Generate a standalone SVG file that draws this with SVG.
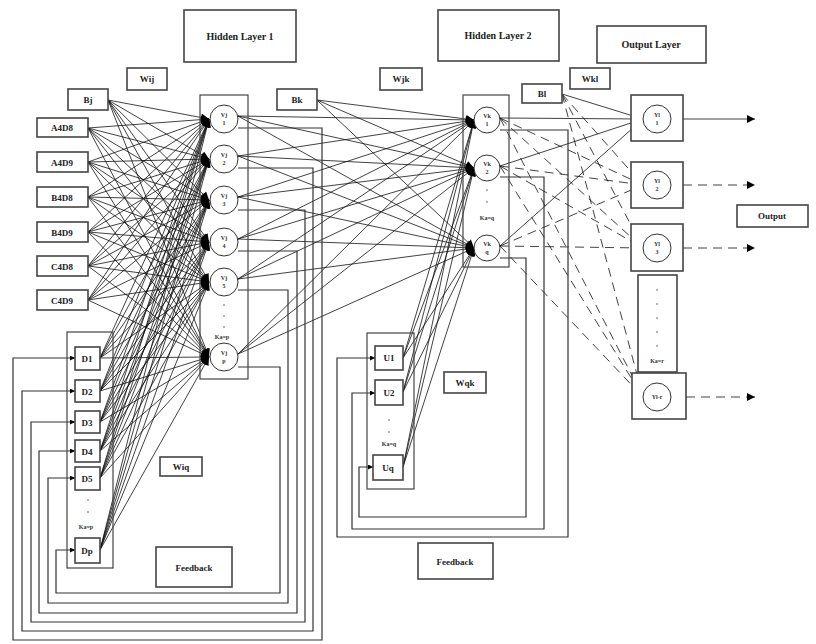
<svg xmlns="http://www.w3.org/2000/svg" width="816" height="644" viewBox="0 0 816 644">
<defs>
<marker id="ah" viewBox="0 0 10 10" refX="10" refY="5" markerWidth="10" markerHeight="8" orient="auto" markerUnits="userSpaceOnUse"><path d="M0,0 L10,5 L0,10 z" fill="#000"/></marker>
<marker id="as" viewBox="0 0 10 10" refX="10" refY="5" markerWidth="6" markerHeight="5" orient="auto" markerUnits="userSpaceOnUse"><path d="M0,0 L10,5 L0,10 z" fill="#000"/></marker>
</defs>
<style>
.b{fill:#fff;stroke:#444;stroke-width:1.6}
.bt{fill:none;stroke:#444;stroke-width:1.2}
.n{fill:#fff;stroke:#333;stroke-width:1}
.t{font-family:"Liberation Serif",serif;font-weight:bold;font-size:9px;fill:#222;text-anchor:middle}
.tt{font-family:"Liberation Serif",serif;font-weight:bold;font-size:10px;fill:#222;text-anchor:middle}
.s{font-family:"Liberation Serif",serif;font-weight:bold;font-size:6px;fill:#333;text-anchor:middle}
.c line{stroke:#111;stroke-width:0.8}
.m line{marker-end:url(#ah)}
.d line{stroke-dasharray:9,6}
.f{fill:none;stroke:#333;stroke-width:1.2}
</style>

<rect width="816" height="644" fill="#fff"/>

<!-- titles and labels -->
<g id="title-hl1"><rect class="b" x="184" y="10" width="112" height="52"/><text class="tt" x="240" y="40">Hidden Layer 1</text></g>
<g id="title-hl2"><rect class="b" x="438" y="10" width="121" height="51"/><text class="tt" x="498" y="39">Hidden Layer 2</text></g>
<g id="title-out"><rect class="b" x="597" y="26" width="109" height="37"/><text class="tt" x="651" y="48">Output Layer</text></g>
<g id="lbl-wij"><rect class="b" x="127" y="68" width="40" height="22"/><text class="t" x="147" y="82">Wij</text></g>
<g id="lbl-wjk"><rect class="b" x="380" y="68" width="42" height="22"/><text class="t" x="401" y="82">Wjk</text></g>
<g id="lbl-wkl"><rect class="b" x="570" y="68" width="40" height="21"/><text class="t" x="590" y="82">Wkl</text></g>
<g id="lbl-output"><rect class="b" x="737" y="205" width="71" height="22"/><text class="t" x="772" y="219">Output</text></g>
<g id="lbl-wiq"><rect class="b" x="160" y="457" width="42" height="19"/><text class="t" x="181" y="470">Wiq</text></g>
<g id="lbl-wqk"><rect class="b" x="444" y="372" width="42" height="21"/><text class="t" x="465" y="386">Wqk</text></g>
<g id="lbl-fb1"><rect class="b" x="156" y="547" width="76" height="40"/><text class="t" x="194" y="571">Feedback</text></g>
<g id="lbl-fb2"><rect class="b" x="418" y="543" width="75" height="36"/><text class="t" x="455" y="565">Feedback</text></g>

<!-- connectors -->
<g id="connectors" class="c">
<g class="m">
<!-- inputs to hidden layer 1 -->
<line x1="108" y1="100" x2="209" y2="119"/><line x1="108" y1="100" x2="209" y2="159"/><line x1="108" y1="100" x2="209" y2="200"/><line x1="108" y1="100" x2="209" y2="242"/><line x1="108" y1="100" x2="209" y2="282"/><line x1="108" y1="100" x2="209" y2="357"/>
<line x1="88" y1="128" x2="209" y2="119"/><line x1="88" y1="128" x2="209" y2="159"/><line x1="88" y1="128" x2="209" y2="200"/><line x1="88" y1="128" x2="209" y2="242"/><line x1="88" y1="128" x2="209" y2="282"/><line x1="88" y1="128" x2="209" y2="357"/>
<line x1="88" y1="162" x2="209" y2="119"/><line x1="88" y1="162" x2="209" y2="159"/><line x1="88" y1="162" x2="209" y2="200"/><line x1="88" y1="162" x2="209" y2="242"/><line x1="88" y1="162" x2="209" y2="282"/><line x1="88" y1="162" x2="209" y2="357"/>
<line x1="88" y1="197" x2="209" y2="119"/><line x1="88" y1="197" x2="209" y2="159"/><line x1="88" y1="197" x2="209" y2="200"/><line x1="88" y1="197" x2="209" y2="242"/><line x1="88" y1="197" x2="209" y2="282"/><line x1="88" y1="197" x2="209" y2="357"/>
<line x1="88" y1="232" x2="209" y2="119"/><line x1="88" y1="232" x2="209" y2="159"/><line x1="88" y1="232" x2="209" y2="200"/><line x1="88" y1="232" x2="209" y2="242"/><line x1="88" y1="232" x2="209" y2="282"/><line x1="88" y1="232" x2="209" y2="357"/>
<line x1="88" y1="266" x2="209" y2="119"/><line x1="88" y1="266" x2="209" y2="159"/><line x1="88" y1="266" x2="209" y2="200"/><line x1="88" y1="266" x2="209" y2="242"/><line x1="88" y1="266" x2="209" y2="282"/><line x1="88" y1="266" x2="209" y2="357"/>
<line x1="88" y1="300" x2="209" y2="119"/><line x1="88" y1="300" x2="209" y2="159"/><line x1="88" y1="300" x2="209" y2="200"/><line x1="88" y1="300" x2="209" y2="242"/><line x1="88" y1="300" x2="209" y2="282"/><line x1="88" y1="300" x2="209" y2="357"/>
<line x1="100" y1="358" x2="209" y2="119"/><line x1="100" y1="358" x2="209" y2="159"/><line x1="100" y1="358" x2="209" y2="200"/><line x1="100" y1="358" x2="209" y2="242"/><line x1="100" y1="358" x2="209" y2="282"/><line x1="100" y1="358" x2="209" y2="357"/>
<line x1="100" y1="391" x2="209" y2="119"/><line x1="100" y1="391" x2="209" y2="159"/><line x1="100" y1="391" x2="209" y2="200"/><line x1="100" y1="391" x2="209" y2="242"/><line x1="100" y1="391" x2="209" y2="282"/><line x1="100" y1="391" x2="209" y2="357"/>
<line x1="100" y1="422" x2="209" y2="119"/><line x1="100" y1="422" x2="209" y2="159"/><line x1="100" y1="422" x2="209" y2="200"/><line x1="100" y1="422" x2="209" y2="242"/><line x1="100" y1="422" x2="209" y2="282"/><line x1="100" y1="422" x2="209" y2="357"/>
<line x1="100" y1="451" x2="209" y2="119"/><line x1="100" y1="451" x2="209" y2="159"/><line x1="100" y1="451" x2="209" y2="200"/><line x1="100" y1="451" x2="209" y2="242"/><line x1="100" y1="451" x2="209" y2="282"/><line x1="100" y1="451" x2="209" y2="357"/>
<line x1="100" y1="478" x2="209" y2="119"/><line x1="100" y1="478" x2="209" y2="159"/><line x1="100" y1="478" x2="209" y2="200"/><line x1="100" y1="478" x2="209" y2="242"/><line x1="100" y1="478" x2="209" y2="282"/><line x1="100" y1="478" x2="209" y2="357"/>
<line x1="100" y1="550" x2="209" y2="119"/><line x1="100" y1="550" x2="209" y2="159"/><line x1="100" y1="550" x2="209" y2="200"/><line x1="100" y1="550" x2="209" y2="242"/><line x1="100" y1="550" x2="209" y2="282"/><line x1="100" y1="550" x2="209" y2="357"/>
<!-- hidden layer 1 to hidden layer 2 -->
<line x1="317" y1="100" x2="474" y2="120"/><line x1="317" y1="100" x2="474" y2="168"/><line x1="317" y1="100" x2="474" y2="248"/>
<line x1="238" y1="116" x2="474" y2="120"/><line x1="238" y1="116" x2="474" y2="168"/><line x1="238" y1="116" x2="474" y2="248"/>
<line x1="238" y1="156" x2="474" y2="120"/><line x1="238" y1="156" x2="474" y2="168"/><line x1="238" y1="156" x2="474" y2="248"/>
<line x1="238" y1="197" x2="474" y2="120"/><line x1="238" y1="197" x2="474" y2="168"/><line x1="238" y1="197" x2="474" y2="248"/>
<line x1="238" y1="239" x2="474" y2="120"/><line x1="238" y1="239" x2="474" y2="168"/><line x1="238" y1="239" x2="474" y2="248"/>
<line x1="238" y1="279" x2="474" y2="120"/><line x1="238" y1="279" x2="474" y2="168"/><line x1="238" y1="279" x2="474" y2="248"/>
<line x1="238" y1="354" x2="474" y2="120"/><line x1="238" y1="354" x2="474" y2="168"/><line x1="238" y1="354" x2="474" y2="248"/>
<line x1="403" y1="358" x2="474" y2="120"/><line x1="403" y1="358" x2="474" y2="168"/><line x1="403" y1="358" x2="474" y2="248"/>
<line x1="403" y1="392" x2="474" y2="120"/><line x1="403" y1="392" x2="474" y2="168"/><line x1="403" y1="392" x2="474" y2="248"/>
<line x1="403" y1="467" x2="474" y2="120"/><line x1="403" y1="467" x2="474" y2="168"/><line x1="403" y1="467" x2="474" y2="248"/>
<!-- hidden layer 2 to output 1 (solid) -->
<line x1="562" y1="94" x2="643" y2="119"/><line x1="500" y1="118" x2="643" y2="119"/><line x1="500" y1="166" x2="643" y2="119"/><line x1="500" y1="246" x2="643" y2="119"/>
<line x1="683" y1="119" x2="755" y2="119"/>
</g>
<g class="m d">
<line x1="562" y1="94" x2="643" y2="185"/><line x1="562" y1="94" x2="643" y2="248"/><line x1="562" y1="94" x2="643" y2="397"/>
<line x1="500" y1="118" x2="643" y2="185"/><line x1="500" y1="118" x2="643" y2="248"/><line x1="500" y1="118" x2="643" y2="397"/>
<line x1="500" y1="166" x2="643" y2="185"/><line x1="500" y1="166" x2="643" y2="248"/><line x1="500" y1="166" x2="643" y2="397"/>
<line x1="500" y1="246" x2="643" y2="185"/><line x1="500" y1="246" x2="643" y2="248"/><line x1="500" y1="246" x2="643" y2="397"/>
<line x1="683" y1="185" x2="755" y2="185"/><line x1="683" y1="248" x2="755" y2="248"/><line x1="686" y1="397" x2="755" y2="397"/>
</g>
<!-- feedback loops hidden layer 1 -> D inputs -->
<path class="f" marker-end="url(#as)" d="M238,128 H322 V640 H13 V358 H75"/>
<path class="f" marker-end="url(#as)" d="M238,168 H313 V631 H22 V391 H75"/>
<path class="f" marker-end="url(#as)" d="M238,210 H305 V622 H31 V422 H75"/>
<path class="f" marker-end="url(#as)" d="M238,251 H297 V613 H39 V451 H75"/>
<path class="f" marker-end="url(#as)" d="M238,290 H288 V603 H48 V478 H75"/>
<path class="f" marker-end="url(#as)" d="M238,367 H280 V593 H56 V550 H75"/>
<!-- feedback loops hidden layer 2 -> U inputs -->
<path class="f" marker-end="url(#as)" d="M500,130 H568 V537 H337 V358 H375"/>
<path class="f" marker-end="url(#as)" d="M500,177 H544 V529 H352 V393 H375"/>
<path class="f" marker-end="url(#as)" d="M500,258 H526 V517 H359 V467 H373"/>
</g>

<!-- bias nodes -->
<g id="bj"><rect class="b" x="68" y="89" width="40" height="21"/><text class="t" x="88" y="103">Bj</text></g>
<g id="bk"><rect class="b" x="277" y="89" width="40" height="21"/><text class="t" x="297" y="103">Bk</text></g>
<g id="bl"><rect class="b" x="522" y="84" width="40" height="19"/><text class="t" x="542" y="97">Bl</text></g>

<!-- input nodes -->
<g id="in-a4d8"><rect class="b" x="37" y="118" width="51" height="19"/><text class="t" x="62" y="131">A4D8</text></g>
<g id="in-a4d9"><rect class="b" x="37" y="152" width="51" height="20"/><text class="t" x="62" y="166">A4D9</text></g>
<g id="in-b4d8"><rect class="b" x="37" y="187" width="51" height="20"/><text class="t" x="62" y="201">B4D8</text></g>
<g id="in-b4d9"><rect class="b" x="37" y="222" width="51" height="20"/><text class="t" x="62" y="236">B4D9</text></g>
<g id="in-c4d8"><rect class="b" x="37" y="256" width="51" height="20"/><text class="t" x="62" y="270">C4D8</text></g>
<g id="in-c4d9"><rect class="b" x="37" y="290" width="51" height="20"/><text class="t" x="62" y="304">C4D9</text></g>

<!-- D context inputs -->
<g id="d-column"><rect class="bt" x="67" y="332" width="46" height="236"/>
<circle cx="88" cy="500" r="0.8" fill="#555"/><circle cx="88" cy="512" r="0.8" fill="#555"/><text class="s" x="86" y="529">Ka=p</text></g>
<g id="d1"><rect class="b" x="75" y="347" width="25" height="23"/><text class="t" x="87" y="362">D1</text></g>
<g id="d2"><rect class="b" x="75" y="380" width="25" height="22"/><text class="t" x="87" y="395">D2</text></g>
<g id="d3"><rect class="b" x="75" y="411" width="25" height="22"/><text class="t" x="87" y="426">D3</text></g>
<g id="d4"><rect class="b" x="75" y="440" width="25" height="22"/><text class="t" x="87" y="455">D4</text></g>
<g id="d5"><rect class="b" x="75" y="467" width="25" height="23"/><text class="t" x="87" y="482">D5</text></g>
<g id="dp"><rect class="b" x="75" y="538" width="25" height="25"/><text class="t" x="87" y="554">Dp</text></g>

<!-- hidden layer 1 -->
<g id="hl1"><rect class="bt" x="200" y="95" width="48" height="284"/>
<circle cx="224" cy="305" r="0.8" fill="#555"/><circle cx="224" cy="316" r="0.8" fill="#555"/><circle cx="224" cy="327" r="0.8" fill="#555"/><text class="s" x="222" y="339">Ka=p</text></g>
<g id="v1"><circle class="n" cx="224" cy="119" r="14"/><text class="s" x="224" y="117">Vj</text><text class="s" x="224" y="125">1</text></g>
<g id="v2"><circle class="n" cx="224" cy="159" r="14"/><text class="s" x="224" y="157">Vj</text><text class="s" x="224" y="165">2</text></g>
<g id="v3"><circle class="n" cx="224" cy="200" r="14"/><text class="s" x="224" y="198">Vj</text><text class="s" x="224" y="206">3</text></g>
<g id="v4"><circle class="n" cx="224" cy="242" r="14"/><text class="s" x="224" y="240">Vj</text><text class="s" x="224" y="248">4</text></g>
<g id="v5"><circle class="n" cx="224" cy="282" r="14"/><text class="s" x="224" y="280">Vj</text><text class="s" x="224" y="288">5</text></g>
<g id="vp"><circle class="n" cx="224" cy="357" r="14"/><text class="s" x="224" y="355">Vj</text><text class="s" x="224" y="363">p</text></g>

<!-- U context inputs -->
<g id="u-column"><rect class="bt" x="367" y="333" width="47" height="156"/>
<circle cx="389" cy="420" r="0.8" fill="#555"/><circle cx="389" cy="432" r="0.8" fill="#555"/><text class="s" x="389" y="446">Ka=q</text></g>
<g id="u1"><rect class="b" x="375" y="346" width="28" height="24"/><text class="t" x="389" y="361">U1</text></g>
<g id="u2"><rect class="b" x="375" y="380" width="28" height="25"/><text class="t" x="389" y="396">U2</text></g>
<g id="uq"><rect class="b" x="373" y="455" width="30" height="25"/><text class="t" x="388" y="471">Uq</text></g>

<!-- hidden layer 2 -->
<g id="hl2"><rect class="bt" x="463" y="95" width="46" height="172"/>
<circle cx="487" cy="190" r="0.8" fill="#555"/><circle cx="487" cy="202" r="0.8" fill="#555"/><text class="s" x="487" y="220">Ka=q</text></g>
<g id="vk1"><circle class="n" cx="487" cy="120" r="13"/><text class="s" x="487" y="118">Vk</text><text class="s" x="487" y="126">1</text></g>
<g id="vk2"><circle class="n" cx="487" cy="168" r="13"/><text class="s" x="487" y="166">Vk</text><text class="s" x="487" y="174">2</text></g>
<g id="vkq"><circle class="n" cx="487" cy="248" r="13"/><text class="s" x="487" y="246">Vk</text><text class="s" x="487" y="254">q</text></g>

<!-- output layer -->
<g id="y1"><rect class="b" x="631" y="95" width="52" height="46"/><circle class="n" cx="657" cy="119" r="14"/><text class="s" x="657" y="117">Yl</text><text class="s" x="657" y="125">1</text></g>
<g id="y2"><rect class="b" x="631" y="162" width="52" height="46"/><circle class="n" cx="657" cy="185" r="14"/><text class="s" x="657" y="183">Yl</text><text class="s" x="657" y="191">2</text></g>
<g id="y3"><rect class="b" x="631" y="224" width="52" height="47"/><circle class="n" cx="657" cy="248" r="14"/><text class="s" x="657" y="246">Yl</text><text class="s" x="657" y="254">3</text></g>
<g id="y-dots"><rect class="b" x="638" y="275" width="39" height="97"/>
<circle cx="657" cy="290" r="0.8" fill="#555"/><circle cx="657" cy="304" r="0.8" fill="#555"/><circle cx="657" cy="318" r="0.8" fill="#555"/><circle cx="657" cy="332" r="0.8" fill="#555"/><circle cx="657" cy="346" r="0.8" fill="#555"/><text class="s" x="657" y="363">Ka=r</text></g>
<g id="yr"><rect class="b" x="632" y="373" width="54" height="46"/><circle class="n" cx="657" cy="397" r="14"/><text class="s" x="657" y="399">Yl-r</text></g>
</svg>
